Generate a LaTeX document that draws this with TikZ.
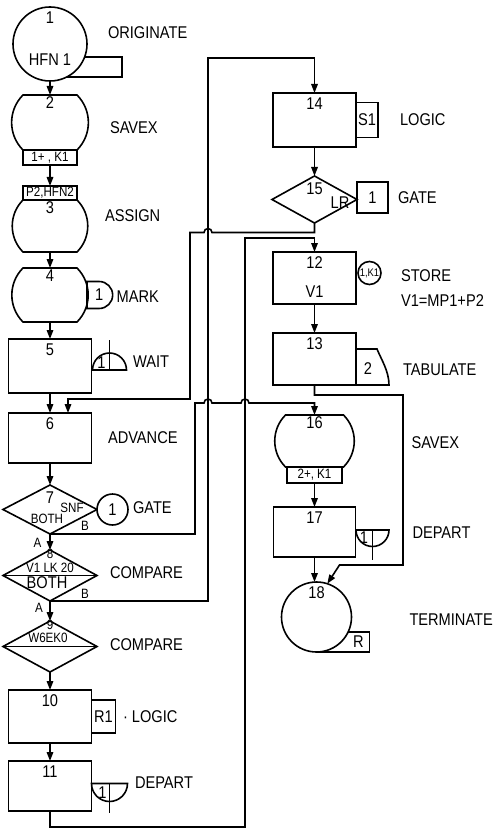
\documentclass[tikz,border=0pt]{standalone}
\usepackage{fontspec}
\setmainfont{Liberation Sans}[FakeStretch=0.86]
\usetikzlibrary{positioning, arrows.meta, calc, backgrounds, shapes.geometric, shapes.misc}
\newcommand{\blockfont}{\fontsize{17}{19}\selectfont}
\newcommand{\tagfont}{\fontsize{13.5}{14}\selectfont}
\newcommand{\tinyfont}{\fontsize{11}{12}\selectfont}

\begin{document}
\begin{tikzpicture}[
  x=1pt, y=1pt,
  every node/.append style={outer sep=0pt},
  edgeLine/.style={line width=1.6pt},
  blockBox/.style={draw, edgeLine, rectangle, minimum width=83pt, minimum height=52pt, inner sep=0pt},
  barrelBox/.style={rectangle, minimum width=54pt, minimum height=54pt, inner sep=0pt},
  decideBox/.style={draw, edgeLine, diamond, minimum width=94pt, minimum height=50pt, inner sep=0pt},
  roundBox/.style={draw, edgeLine, circle, fill=white, inner sep=0pt},
  tagBox/.style={draw, edgeLine, rectangle, inner sep=0pt, font=\tagfont},
  numLabel/.style={font=\blockfont, anchor=north, inner sep=4.5pt},
  numTag/.style={label={[numLabel]north:#1}},
  barrelNum/.style={label={[numLabel, inner sep=1.5pt]north:#1}},
  blockText/.style={font=\blockfont, inner sep=0pt},
  smallText/.style={font=\tagfont, inner sep=0pt},
  opText/.style={font=\blockfont, inner sep=0pt, anchor=west},
  flow/.style={-{Triangle[length=9pt, width=6.5pt]}, line width=1.6pt}
]
\useasboundingbox (0,0) rectangle (496,-829);

% Left column
\node[roundBox, minimum size=74pt, numTag=1] (c1) at (50,-44) {};
\node[blockText] (hfn1) at ([yshift=-16pt]c1.center) {HFN 1};
\node[barrelBox, minimum height=55pt, barrelNum=2, below=14pt of c1] (b2) {};
\node[tagBox, minimum width=54pt, minimum height=15pt, below=0pt of b2] (k2) {1+ , K1};
\node[tagBox, minimum width=54pt, minimum height=14pt, below=21pt of k2] (p3) {P2,HFN2};
\node[barrelBox, minimum height=52pt, barrelNum=3, below=0pt of p3] (b3) {};
\node[barrelBox, barrelNum=4, below=16pt of b3] (b4) {};
\node[blockBox, minimum height=54pt, numTag=5, below=17pt of b4] (r5) {};
\node[blockBox, minimum height=50pt, numTag=6, below=20pt of r5] (r6) {};
\node[decideBox, minimum height=49pt, below=22pt of r6] (d7) {};
\node[decideBox, minimum height=51pt, below=16pt of d7] (d8) {};
\node[decideBox, minimum height=51pt, below=20pt of d8] (d9) {};
\node[blockBox, minimum height=53pt, numTag=10, below=18pt of d9] (r10) {};
\node[blockBox, minimum height=50pt, numTag=11, below=18pt of r10] (r11) {};

% Right column
\node[blockBox, minimum height=54pt, numTag=14] (r14) at (314.5,-120) {};
\node[decideBox, minimum width=85pt, minimum height=47pt, below=29pt of r14] (d15) {};
\node[blockBox, numTag=12, below=29pt of d15] (r12) {};
\node[blockBox, numTag=13, below=29pt of r12] (r13) {};
\node[barrelBox, minimum width=58pt, minimum height=52pt, barrelNum=16, below=30pt of r13] (b16) {};
\node[tagBox, minimum width=55pt, minimum height=16pt, below=0pt of b16] (k16) {2+, K1};
\node[blockBox, minimum width=82pt, minimum height=50pt, numTag=17, below=24pt of k16] (r17) {};
\node[roundBox, minimum size=70pt, below=25pt of r17, xshift=2pt, label={[numLabel, inner sep=5pt]north:18}] (c18) {};

% Barrel outlines
\foreach \b in {b2,b3,b4,b16}
  \draw[edgeLine] (\b.north west) to[out=-135, in=135] (\b.south west) -- (\b.south east) to[out=45, in=-45] (\b.north east) -- cycle;

% Tabs behind the round blocks
\begin{scope}[on background layer]
  \node[draw, edgeLine, minimum width=72pt, minimum height=20pt, inner sep=0pt, anchor=west] (tab1) at ([yshift=-23pt]c1.center) {};
  \node[draw, edgeLine, minimum width=53pt, minimum height=20pt, inner sep=0pt, anchor=south west] (tab18) at (c18.south) {};
\end{scope}
\node[blockText] (r18) at ([shift={(42pt,10pt)}]c18.south) {R};

% Texts in the decision blocks
\node[blockText] (n7) at ([yshift=11.5pt]d7.center) {7};
\node[smallText] (snf7) at ([shift={(22pt,1.5pt)}]d7.center) {SNF};
\node[smallText] (both7) at ([shift={(-3pt,-9.5pt)}]d7.center) {BOTH};
\node[smallText] (exitB7) at ([shift={(35pt,8pt)}]d7.south) {B};
\node[smallText] (exitA7) at ([shift={(-12.5pt,-9pt)}]d7.south) {A};
\draw[edgeLine] (d8.west) -- (d8.east);
\node[smallText] (n8) at ([yshift=21.5pt]d8.center) {8};
\node[smallText] (lk8) at ([yshift=8pt]d8.center) {V1 LK 20};
\node[blockText] (both8) at ([shift={(-3pt,-7.5pt)}]d8.center) {BOTH};
\node[smallText] (exitB8) at ([shift={(35pt,7.5pt)}]d8.south) {B};
\node[smallText] (exitA8) at ([shift={(-11pt,-6.5pt)}]d8.south) {A};
\draw[edgeLine] (d9.west) -- (d9.east);
\node[smallText] (n9) at ([yshift=22pt]d9.center) {9};
\node[smallText] (ek9) at ([shift={(-2pt,9pt)}]d9.center) {W6EK0};
\node[blockText] (n15) at ([yshift=11pt]d15.center) {15};
\node[blockText] (lr15) at ([shift={(25.5pt,-3.5pt)}]d15.center) {LR};

% Side symbols
\node[draw, edgeLine, rounded rectangle, rounded rectangle left arc=none, minimum width=22pt, minimum height=27pt, inner sep=0pt, font=\blockfont, right=10pt of b4] (m4) {1};
\coordinate (wait5) at ([shift={(18pt,-4pt)}]r5.east);
\draw[edgeLine] ([xshift=-17pt]wait5) arc[start angle=180, end angle=0, radius=17pt] -- cycle;
\draw[edgeLine] (wait5) -- ++(0,30pt);
\node[blockText] (w5num) at ([shift={(-8pt,7pt)}]wait5) {1};
\node[roundBox, minimum size=31pt, font=\blockfont, right=0pt of d7] (g7) {1};
\node[tagBox, font=\blockfont, minimum width=24pt, minimum height=33pt, right=0pt of r10] (r1tag) {R1};
\coordinate (dep11) at ([shift={(18pt,2.5pt)}]r11.east);
\draw[edgeLine] ([xshift=-18pt]dep11) arc[start angle=180, end angle=360, radius=18pt] -- cycle;
\draw[edgeLine] (dep11) -- ++(0,-29pt);
\node[blockText] (d11num) at ([shift={(-7pt,-9pt)}]dep11) {1};
\node[tagBox, font=\blockfont, minimum width=22pt, minimum height=35pt, right=0pt of r14] (s1tag) {S1};
\node[tagBox, font=\blockfont, minimum width=31pt, minimum height=31pt, right=0pt of d15, yshift=2pt] (g15) {1};
\node[blockText] (v12) at ([yshift=12pt]r12.south) {V1};
\node[roundBox, minimum size=23pt, font=\tinyfont, right=2pt of r12, yshift=5pt] (s12) {1,K1};
\coordinate (tab13) at ([yshift=10pt]r13.east);
\draw[edgeLine] (tab13) -- ++(21pt,0) .. controls +(4pt,-10pt) and +(0pt,14pt) .. ([xshift=33pt]r13.south east) -- (r13.south east);
\node[blockText] (t13num) at ([shift={(12pt,-10pt)}]r13.east) {2};
\coordinate (dep17) at ([shift={(17pt,2pt)}]r17.east);
\draw[edgeLine] ([xshift=-16.5pt]dep17) arc[start angle=180, end angle=360, radius=16.5pt] -- cycle;
\draw[edgeLine] (dep17) -- ++(0,-30pt);
\node[blockText] (d17num) at ([shift={(-8.5pt,-8pt)}]dep17) {1};

% Block names
\node[opText, right=21pt of c1, yshift=11pt] (originate) {ORIGINATE};
\node[opText, right=33pt of b2, yshift=-5.5pt] (savex2) {SAVEX};
\node[opText, right=28pt of b3, yshift=10pt] (assign3) {ASSIGN};
\node[opText, right=4pt of m4, yshift=-2pt] (mark4) {MARK};
\node[opText, right=41.5pt of r5, yshift=4pt] (wait5text) {WAIT};
\node[opText, right=16.5pt of r6] (advance6) {ADVANCE};
\node[opText, right=5pt of g7, yshift=1.5pt] (gate7) {GATE};
\node[opText, right=13pt of d8, yshift=2.5pt] (compare8) {COMPARE};
\node[opText, right=13pt of d9, yshift=1.5pt] (compare9) {COMPARE};
\node[opText, right=7.5pt of r1tag] (logic10) {· LOGIC};
\node[opText, right=43.5pt of r11, yshift=3pt] (depart11) {DEPART};
\node[opText, right=22pt of s1tag] (logic14) {LOGIC};
\node[opText, right=10pt of g15] (gate15) {GATE};
\node[opText, align=left, font={\fontsize{17}{25}\selectfont}, right=20pt of s12, yshift=-14.75pt] (store12) {STORE\\V1=MP1+P2};
\node[opText, right=47pt of r13, yshift=-11pt] (tabulate13) {TABULATE};
\node[opText, right=68pt of b16, yshift=-2pt] (savex16) {SAVEX};
\node[opText, right=57pt of r17, yshift=-1pt] (depart17) {DEPART};
\node[opText, right=58pt of c18, yshift=-3pt] (terminate18) {TERMINATE};

% Straight flow
\draw[flow] (c1) -- (b2);
\draw[flow] (k2) -- (p3);
\draw[flow] (b3) -- (b4);
\draw[flow] (b4) -- (r5);
\draw[flow] (r5) -- (r6);
\draw[flow] (r6) -- (d7);
\draw[flow] (d7) -- (d8);
\draw[flow] (d8) -- (d9);
\draw[flow] (d9) -- (r10);
\draw[flow] (r10) -- (r11);
\draw[flow] (r14) -- (d15);
\draw[flow] (r12) -- (r13);
\draw[flow] (k16) -- (r17);
\draw[flow] (r17.south) -- (r17.south |- c18.north);

% Routing lanes
\coordinate (laneGate) at (190,0);
\coordinate (laneSnf) at (195,0);
\coordinate (laneLk) at (208,0);
\coordinate (laneDep) at (245,0);
\coordinate (laneTab) at (403,0);
\coordinate (drop15) at ([yshift=-9.5pt]d15.south);
\coordinate (in6) at ([shift={(18pt,14pt)}]r6.north);
\coordinate (over16) at ([yshift=12pt]b16.north);
\coordinate (over14) at ([yshift=35pt]r14.north);
\coordinate (over12) at ([yshift=14pt]r12.north);
\coordinate (under11) at ([yshift=-16pt]r11.south);
\coordinate (under13) at ([yshift=-10pt]r13.south);
\coordinate (near18) at ([shift={(23pt,17pt)}]c18.north);

% Routed flow with hops
\draw[flow] (d15.south) -- (drop15) -- ($(drop15 -| laneLk)+(4pt,0)$) arc[start angle=0, end angle=180, radius=4pt] -- (drop15 -| laneGate) |- (in6) -- ([xshift=18pt]r6.north);
\draw[flow] (d7.south) -| (over16 -| laneSnf) -- ($(over16 -| laneLk)+(-4pt,0)$) arc[start angle=180, end angle=0, radius=4pt] -- ($(over16 -| laneDep)+(-4pt,0)$) arc[start angle=180, end angle=0, radius=4pt] -- (over16) -- (b16.north);
\draw[flow] (d8.south) -| (over14 -| laneLk) -- (over14) -- (r14.north);
\draw[flow] (r11.south) -- (under11) -| (over12 -| laneDep) -- (over12) -- (r12.north);
\draw[flow] (r13.south) -- (under13) -| (near18 -| laneTab) -- (near18) -- (c18.72);

\end{tikzpicture}
\end{document}
